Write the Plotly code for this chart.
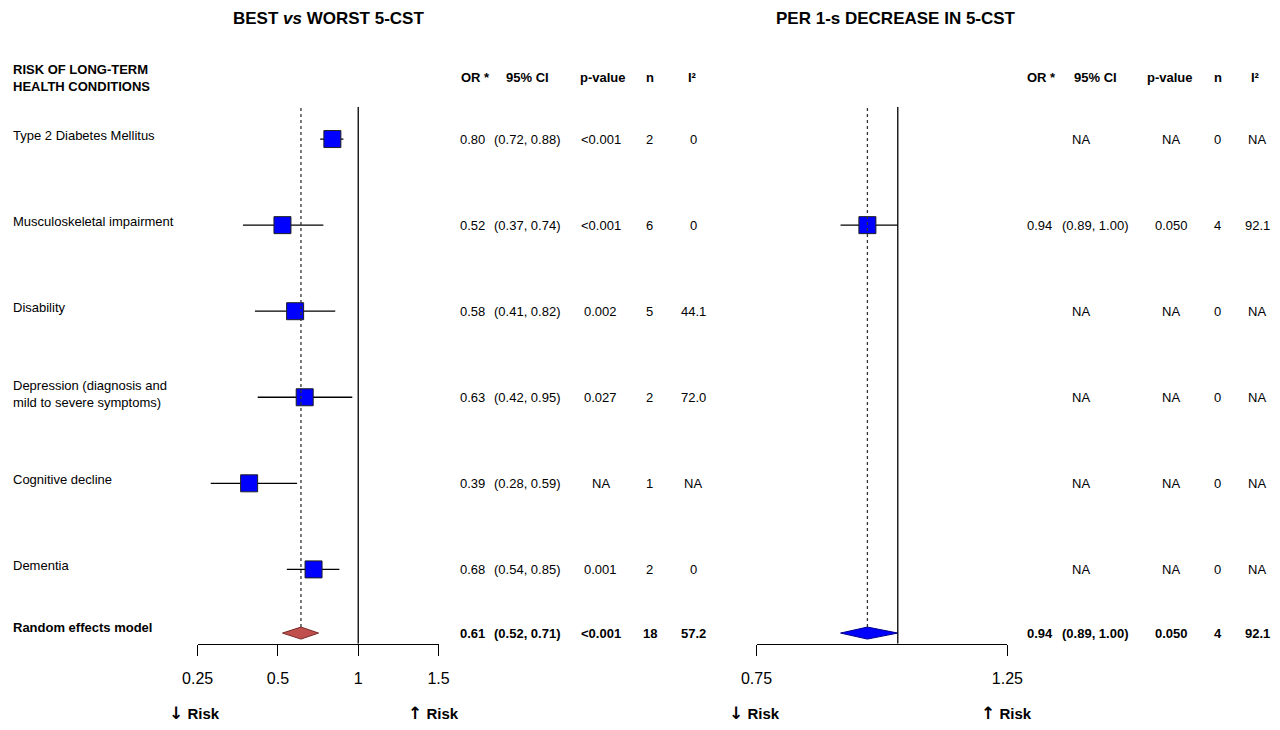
import plotly.graph_objects as go

# row labels (top to bottom)
conditions = ["Type 2 Diabetes Mellitus", "Musculoskeletal impairment", "Disability",
              "Depression (diagnosis and<br>mild to severe symptoms)", "Cognitive decline", "Dementia"]

# best vs worst 5-CST
best_or = [0.80, 0.52, 0.58, 0.63, 0.39, 0.68]
best_lo = [0.72, 0.37, 0.41, 0.42, 0.28, 0.54]
best_hi = [0.88, 0.74, 0.82, 0.95, 0.59, 0.85]
best_p = ["<0.001", "<0.001", "0.002", "0.027", "NA", "0.001"]
best_n = ["2", "6", "5", "2", "1", "2"]
best_i2 = ["0", "0", "44.1", "72.0", "NA", "0"]
best_sum = dict(est=0.61, lo=0.52, hi=0.71, p="<0.001", n="18", i2="57.2")

# per 1-s decrease in 5-CST
per_or = [None, 0.94, None, None, None, None]
per_lo = [None, 0.89, None, None, None, None]
per_hi = [None, 1.00, None, None, None, None]
per_p = ["NA", "0.050", "NA", "NA", "NA", "NA"]
per_n = ["0", "4", "0", "0", "0", "0"]
per_i2 = ["NA", "92.1", "NA", "NA", "NA", "NA"]
per_sum = dict(est=0.94, lo=0.89, hi=1.00, p="0.050", n="4", i2="92.1")

best_ticks = [0.25, 0.5, 1, 2]
best_ticktext = ["0.25", "0.5", "1", "1.5"]
per_ticks = [0.75, 1.25]
per_ticktext = ["0.75", "1.25"]

# page body keeps an 8px margin, so the figure is a bit smaller than the window
W, H = 1280, 730
FIG_W, FIG_H = 1264, 714
FONT = "Liberation Sans, Arial, sans-serif"
ARROW = "<span style='font-family:DejaVu Sans;font-size:17px'>{}</span>"
rows = list(range(len(conditions), 0, -1))
y_sum = 0.26
dh = 0.07
y_bot, y_top = 0.136, 6.375

def px(x):
    return x / W

def py(y):
    return (H - y) / H

fig = go.Figure()
annos = []

def txt(x, y, s, yref="y", bold=False, size=13, xanchor="center", yshift=0):
    if bold:
        s = "<b>" + s + "</b>"
    annos.append(dict(x=px(x), xref="paper", y=y, yref=yref, text=s, showarrow=False,
                      xanchor=xanchor, yanchor="middle", yshift=yshift, align="left",
                      font=dict(family=FONT, size=size, color="black")))

def forest(xa, est, lo, hi, summ, diamond_color, diamond_line):
    ys = [y for y, e in zip(rows, est) if e is not None]
    es = [e for e in est if e is not None]
    ls = [v for v in lo if v is not None]
    hs = [v for v in hi if v is not None]
    cx, cy = [], []
    for y, a, b in zip(ys, ls, hs):
        cx += [a, b, None]
        cy += [y, y, None]
    fig.add_trace(go.Scatter(x=cx, y=cy, xaxis=xa, yaxis="y", mode="lines",
                             line=dict(color="black", width=1.3), showlegend=False, hoverinfo="skip"))
    fig.add_trace(go.Scatter(x=es, y=ys, xaxis=xa, yaxis="y", mode="markers",
                             marker=dict(symbol="square", size=17, color="#0000FF",
                                         line=dict(color="#202020", width=1)),
                             showlegend=False, hoverinfo="skip"))
    fig.add_trace(go.Scatter(x=[summ["lo"], summ["est"], summ["hi"], summ["est"], summ["lo"]],
                             y=[y_sum, y_sum + dh, y_sum, y_sum - dh, y_sum],
                             xaxis=xa, yaxis="y", mode="lines", fill="toself",
                             fillcolor=diamond_color, line=dict(color=diamond_line, width=1),
                             showlegend=False, hoverinfo="skip"))
    fig.add_shape(type="line", xref=xa, yref="y", x0=1, x1=1, y0=y_bot, y1=y_top,
                  line=dict(color="black", width=1.3))
    fig.add_shape(type="line", xref=xa, yref="y", x0=summ["est"], x1=summ["est"],
                  y0=y_sum + dh, y1=y_top, line=dict(color="#333333", width=1.3, dash="dot"))

forest("x", best_or, best_lo, best_hi, best_sum, "#C0504D", "#7A2A28")
forest("x2", per_or, per_lo, per_hi, per_sum, "#0000FF", "#00008B")

# titles and headers
txt(325, py(11), "BEST <i>vs</i> WORST 5-CST", yref="paper", bold=True, size=17)
txt(899, py(11), "PER 1-s DECREASE IN 5-CST", yref="paper", bold=True, size=17)
txt(3, py(72), "RISK OF LONG-TERM<br>HEALTH CONDITIONS", yref="paper", bold=True, xanchor="left")
for xs, labels in [([473, 526, 603, 650, 693], ["OR *", "95% CI", "p-value", "n", "I²"]),
                   ([1047, 1101, 1177, 1225, 1263], ["OR *", "95% CI", "p-value", "n", "I²"])]:
    for x, s in zip(xs, labels):
        txt(x, py(71), s, yref="paper", bold=True)

# row labels and value columns
for i, y in enumerate(rows):
    txt(3, y, conditions[i], xanchor="left", yshift=4 if "<br>" not in conditions[i] else 3)
    txt(470, y, f"{best_or[i]:.2f}")
    txt(526, y, f"({best_lo[i]:.2f}, {best_hi[i]:.2f})")
    txt(600, y, best_p[i])
    txt(650, y, best_n[i])
    txt(694, y, best_i2[i])
    if per_or[i] is None:
        txt(1087, y, "NA")
    else:
        txt(1045, y, f"{per_or[i]:.2f}")
        txt(1101, y, f"({per_lo[i]:.2f}, {per_hi[i]:.2f})")
    txt(1178, y, per_p[i])
    txt(1225, y, per_n[i])
    txt(1265, y, per_i2[i])

txt(3, y_sum, "Random effects model", bold=True, xanchor="left", yshift=6)
for (xo, xc, xp, xn, xi), s in [((470, 526, 600, 650, 694), best_sum),
                                ((1045, 1101, 1178, 1225, 1265), per_sum)]:
    txt(xo, y_sum, f"{s['est']:.2f}", bold=True)
    txt(xc, y_sum, f"({s['lo']:.2f}, {s['hi']:.2f})", bold=True)
    txt(xp, y_sum, s["p"], bold=True)
    txt(xn, y_sum, s["n"], bold=True)
    txt(xi, y_sum, s["i2"], bold=True)

# risk direction labels
for x, a in [(189, "↓"), (431, "↑"), (756, "↓"), (1011, "↑")]:
    txt(x, py(721), ARROW.format(a) + " Risk", yref="paper", bold=True, size=15)

axis_common = dict(type="log", showline=True, linecolor="black", linewidth=1.3,
                   ticks="outside", ticklen=11, tickwidth=1.3, tickcolor="black",
                   ticklabelstandoff=9,
                   showgrid=False, zeroline=False, anchor="y", automargin=False,
                   tickfont=dict(family=FONT, size=16, color="black"))
fig.update_layout(
    width=FIG_W, height=FIG_H, autosize=False,
    margin=dict(l=0, r=0, t=0, b=0, pad=0, autoexpand=False),
    paper_bgcolor="white", plot_bgcolor="rgba(0,0,0,0)",
    xaxis=dict(domain=[px(192), px(436)], range=[-0.60206, 0.30103],
               tickvals=best_ticks, ticktext=best_ticktext, **axis_common),
    xaxis2=dict(domain=[px(758), px(1012)], range=[-0.124939, 0.09691],
                tickvals=per_ticks, ticktext=per_ticktext, **axis_common),
    yaxis=dict(domain=[py(650), py(101)], range=[y_bot, y_top], visible=False,
               automargin=False),
    annotations=annos,
)

fig.write_html("out.html")
